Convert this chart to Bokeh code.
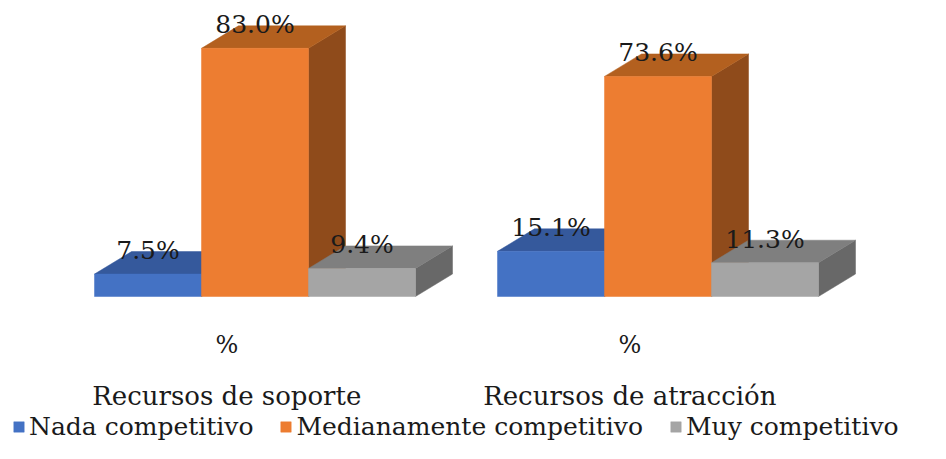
from bokeh.plotting import figure
from bokeh.models import Range1d, ColumnDataSource, Legend, LegendItem
from bokeh.core.properties import value
from bokeh.embed import file_html
from bokeh.resources import INLINE

# ---- data ----
groups = ["Recursos de soporte", "Recursos de atracción"]
sub_label = "%"
series = ["Nada competitivo", "Medianamente competitivo", "Muy competitivo"]
nada = [7.5, 15.1]
mediana = [83.0, 73.6]
muy = [9.4, 11.3]
values_by_series = [nada, mediana, muy]

front_colors = ["#4472C4", "#ED7D31", "#A5A5A5"]
top_colors = ["#35599C", "#B3601F", "#7F7F7F"]
side_colors = ["#2B4A85", "#8F4B1B", "#686868"]

FONT = "DejaVu Serif"
TXT = "#1a1a1a"
W, H = 930, 443
PX_PER_UNIT_X = 403.0
PX_PER_UNIT_Y = 2.99
BASE_PX = 296.0      # baseline, px from top
G0_PX = 254.5        # centre of first group, px from left

bar_w = 107.0 / PX_PER_UNIT_X
dx = 37.0 / PX_PER_UNIT_X
dy = 22.5 / PX_PER_UNIT_Y

x_start = -G0_PX / PX_PER_UNIT_X
y_start = -(H - BASE_PX) / PX_PER_UNIT_Y
y_end = BASE_PX / PX_PER_UNIT_Y

p = figure(width=W, height=H, output_backend="svg", toolbar_location=None,
           x_range=Range1d(x_start, x_start + W / PX_PER_UNIT_X),
           y_range=Range1d(y_start, y_end),
           min_border=0, min_border_left=0, min_border_right=0,
           min_border_top=0, min_border_bottom=0)
p.axis.visible = False
p.grid.visible = False
p.outline_line_color = None
p.background_fill_color = "white"
p.border_fill_color = "white"

legend_items = []
for s, vals in enumerate(values_by_series):
    x0 = [g + (s - 1) * bar_w - bar_w / 2 for g in range(len(groups))]
    x1 = [a + bar_w for a in x0]
    sides_x = [[b, b + dx, b + dx, b] for b in x1]
    sides_y = [[0, dy, v + dy, v] for v in vals]
    tops_x = [[a, b, b + dx, a + dx] for a, b in zip(x0, x1)]
    tops_y = [[v, v, v + dy, v + dy] for v in vals]
    p.patches(sides_x, sides_y, fill_color=side_colors[s], line_color=side_colors[s], line_width=0.5)
    p.patches(tops_x, tops_y, fill_color=top_colors[s], line_color=top_colors[s], line_width=0.5)
    fr = p.quad(left=x0, right=x1, bottom=[0] * len(vals), top=vals,
                fill_color=front_colors[s], line_color=front_colors[s], line_width=0.5)
    legend_items.append(LegendItem(label=series[s], renderers=[fr]))

    src = ColumnDataSource(dict(
        x=[g + (s - 1) * bar_w for g in range(len(groups))],
        y=[v + dy for v in vals],
        t=[f"{v:.1f}%" for v in vals]))
    p.text(x="x", y="y", text="t", source=src, text_align="center",
           text_baseline="alphabetic", y_offset=-1, text_font=value(FONT),
           text_font_size="25px", text_color=TXT)

# category labels (two-level axis)
lab_x = [g - 0.07 for g in range(len(groups))]
p.text(x=lab_x, y=[0] * len(groups), text=[sub_label] * len(groups),
       text_align="center", text_baseline="alphabetic", y_offset=48,
       text_font=value(FONT), text_font_size="24px", text_color=TXT)
p.text(x=lab_x, y=[0] * len(groups), text=groups,
       text_align="center", text_baseline="alphabetic", y_offset=99,
       text_font=value(FONT), text_font_size="26px", text_color=TXT)

legend = Legend(items=legend_items, orientation="horizontal",
                location=(12, 2), label_text_font=FONT,
                label_text_font_size="25px", label_text_color=TXT,
                glyph_width=13, glyph_height=13, label_standoff=4,
                spacing=26, padding=0, margin=0,
                border_line_alpha=0, background_fill_alpha=0)
p.add_layout(legend)

open("out.html", "w").write(file_html(p, INLINE))
